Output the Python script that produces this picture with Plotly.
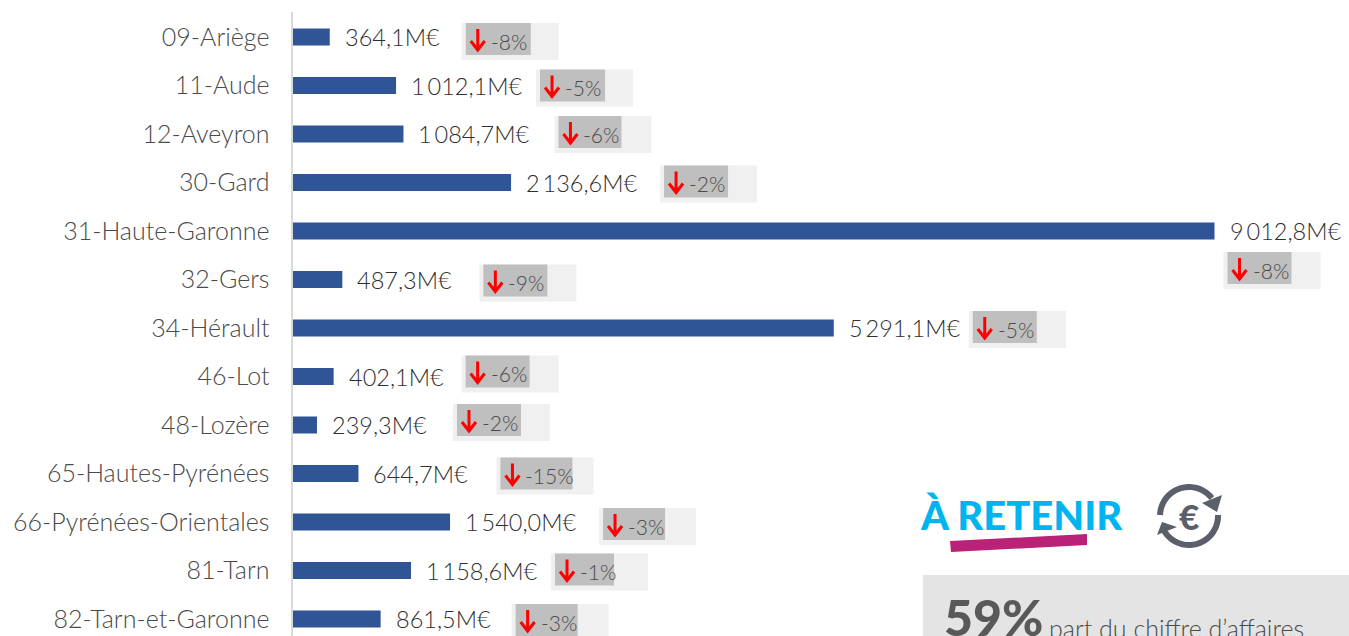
import numpy as np
import plotly.graph_objects as go

departments = ["09-Ariège", "11-Aude", "12-Aveyron", "30-Gard", "31-Haute-Garonne", "32-Gers", "34-Hérault",
               "46-Lot", "48-Lozère", "65-Hautes-Pyrénées", "66-Pyrénées-Orientales", "81-Tarn", "82-Tarn-et-Garonne"]
turnover = [364.1, 1012.1, 1084.7, 2136.6, 9012.8, 487.3, 5291.1, 402.1, 239.3, 644.7, 1540.0, 1158.6, 861.5]
turnover_labels = ["364,1M€", "1\u2009012,1M€", "1\u2009084,7M€", "2\u2009136,6M€", "9\u2009012,8M€", "487,3M€", "5\u2009291,1M€",
                   "402,1M€", "239,3M€", "644,7M€", "1\u2009540,0M€", "1\u2009158,6M€", "861,5M€"]
changes = ["-8%", "-5%", "-6%", "-2%", "-8%", "-9%", "-5%", "-6%", "-2%", "-15%", "-3%", "-1%", "-3%"]

# Layout of the callouts (pixels relative to the end of each bar)
badge_x = [132, 140, 151, 149, 9, 137, 135, 128, 136, 138, 149, 140, 131]
badge_y = [-14, -16, -18, -17, 21, -15, -17, -21, -21, -16, -14, -17, -15]
chip_w = [65, 65, 63, 64, 64, 64, 64, 64, 64, 72, 62, 59, 62]

W, H = 1349, 636
FONT = "Lato Light"
X0 = 292.5
PX_PER_UNIT = (1214.5 - X0) / 9012.8
ROW, FIRST = 48.5, 37
TOP = 12


def px(x):
    return x / W


def py(y):
    return 1 - y / H


fig = go.Figure(go.Bar(x=turnover, y=departments, orientation="h", marker=dict(color="#2F5597", line_width=0),
                       width=0.35, hoverinfo="skip"))

shapes, notes = [], []
for i, dep in enumerate(departments):
    v = turnover[i]
    bx, by, cw = badge_x[i], badge_y[i], chip_w[i]
    base = dict(xref="x", yref="y", xsizemode="pixel", ysizemode="pixel", xanchor=v, yanchor=dep, layer="above")
    shapes.append(dict(type="rect", x0=bx, x1=bx + 97, y0=-by, y1=-(by + 37), fillcolor="#F0F0F0", line_width=0, **base))
    shapes.append(dict(type="rect", x0=bx + 4, x1=bx + 4 + cw, y0=-by, y1=-(by + 32), fillcolor="#BFBFBF", line_width=0, **base))
    ax, top, tip = bx + 16, -(by + 6), -(by + 27)
    arrow = f"M{ax},{top} L{ax},{tip} M{ax-7},{tip+9} L{ax},{tip} L{ax+7},{tip+9}"
    shapes.append(dict(type="path", path=arrow, line=dict(color="#FF0000", width=3), **base))
    notes.append(dict(x=v, y=dep, xref="x", yref="y", text=turnover_labels[i], showarrow=False, xanchor="left",
                      xshift=13, yshift=0, font=dict(family=FONT, size=23.5, color="#2F2F2F")))
    notes.append(dict(x=v, y=dep, xref="x", yref="y", text=changes[i], showarrow=False, xanchor="left",
                      xshift=bx + 27, yshift=-(by + 18), font=dict(family=FONT, size=21, color="#4A4A4A")))


def poly(points):
    return "M" + " L".join(f"{px(x):.5f},{py(y):.5f}" for x, y in points) + " Z"


def arc(cx, cy, r, a0, a1):
    t = np.radians(np.linspace(a0, a1, 40))
    return "M" + " L".join(f"{px(cx + r*np.cos(a)):.5f},{py(cy - r*np.sin(a)):.5f}" for a in t)


paper = dict(xref="paper", yref="paper")
shapes += [
    dict(type="rect", x0=px(923), x1=px(1349), y0=py(636), y1=py(575), fillcolor="#E4E4E4", line_width=0, **paper),
    dict(type="path", path=poly([(950, 541), (1087, 534), (1087, 545), (951, 552)]), fillcolor="#B92277", line_width=0, **paper),
    dict(type="path", path=arc(1189, 516, 29, 178, 38), line=dict(color="#5B5F69", width=6), **paper),
    dict(type="path", path=arc(1189, 516, 29, 2, -150), line=dict(color="#5B5F69", width=6), **paper),
    dict(type="path", path=poly([(1202, 503), (1222, 495), (1217, 512)]), fillcolor="#5B5F69", line_width=0, **paper),
    dict(type="path", path=poly([(1157, 535), (1162, 522), (1177, 527)]), fillcolor="#5B5F69", line_width=0, **paper),
]
notes += [
    dict(x=px(918), y=py(515), text="À RETENIR", showarrow=False, xanchor="left", yanchor="middle",
         font=dict(family="Lato", size=40, color="#00B5EF", weight=900), **paper),
    dict(x=px(1189), y=py(516), text="€", showarrow=False, xanchor="center", yanchor="middle",
         font=dict(family="Lato", size=35, color="#5B5F69", weight=900), **paper),
    dict(x=px(942), y=py(617), text="59%", showarrow=False, xanchor="left", yanchor="middle",
         font=dict(family="Lato", size=50, color="#595959", weight=900), **paper),
    dict(x=px(1047), y=py(628), text="part du chiffre d’affaires", showarrow=False, xanchor="left", yanchor="middle",
         font=dict(family=FONT, size=25, color="#4A4A4A"), **paper),
]

fig.update_layout(
    width=W, height=H, margin=dict(l=0, r=0, t=0, b=0), plot_bgcolor="white", paper_bgcolor="white",
    showlegend=False, shapes=shapes, annotations=notes,
    xaxis=dict(domain=[px(X0), 1], range=[0, (W - X0) / PX_PER_UNIT], visible=False),
    yaxis=dict(domain=[0, py(TOP)], range=[(H - FIRST) / ROW, (TOP - FIRST) / ROW], type="category",
               categoryorder="array", categoryarray=departments, showgrid=False, ticks="",
               ticklabelstandoff=16, showline=True, linecolor="#D9D9D9", linewidth=2,
               tickfont=dict(family=FONT, size=25, color="#4A4A4A")),
)

fig.write_html("out.html", config={"displayModeBar": False},
               post_script="document.body.style.margin='0';document.body.style.overflow='hidden';")
